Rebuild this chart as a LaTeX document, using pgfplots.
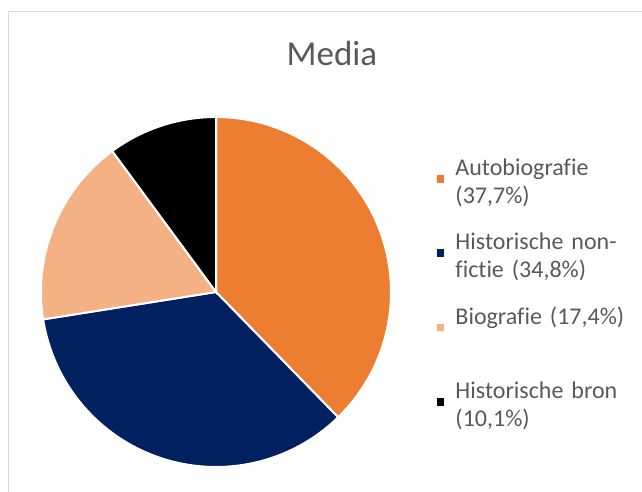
\documentclass[border=0pt]{standalone}
\usepackage{pgfplots}
\pgfplotsset{compat=1.18}
\usepackage{fontspec}
\setmainfont{Carlito}[Ligatures=CommonOff]
\definecolor{cA}{HTML}{ED7D31}
\definecolor{cB}{HTML}{002060}
\definecolor{cC}{HTML}{F4B183}
\definecolor{cD}{HTML}{000000}
\definecolor{txt}{HTML}{595959}
\definecolor{frame}{HTML}{D9D9D9}
% shares in percent
\def\pA{37.7}
\def\pB{34.8}
\def\pC{17.4}
\def\pD{10.1}
\pgfmathsetmacro{\aA}{90}
\pgfmathsetmacro{\aB}{90-3.6*\pA}
\pgfmathsetmacro{\aC}{90-3.6*(\pA+\pB)}
\pgfmathsetmacro{\aD}{90-3.6*(\pA+\pB+\pC)}
\pgfmathsetmacro{\aE}{90-3.6*(\pA+\pB+\pC+\pD)}
\begin{document}
\begin{tikzpicture}
\useasboundingbox (0,0) rectangle (642bp,492bp);
\draw[frame, line width=1.2bp] (8.5bp,-5bp) |- (650bp,480.5bp);
\node[font=\fontsize{35bp}{42bp}\selectfont, text=txt, anchor=base] at (332bp,426bp) {Media};
\begin{axis}[
  at={(41bp,25bp)}, anchor=south west,
  scale only axis, width=350bp, height=350bp,
  xmin=-1, xmax=1, ymin=-1, ymax=1,
  hide axis, clip=false,
  legend style={
    at={(1.1314,0.881)}, anchor=north west,
    draw=none, fill=none, inner sep=0pt, outer sep=0pt,
    row sep=17.3bp, column sep=11bp,
    font=\fontsize{24bp}{28bp}\selectfont, text=txt,
    nodes={inner sep=0pt, text width=185bp, align=left, text height=17bp, text depth=40bp},
  },
  legend cell align=left,
  legend image code/.code={\fill[#1, draw=none] (0bp,4.5bp) rectangle (7.5bp,12bp);},
]
\addplot[fill=cA, draw=white, line width=2bp, domain=\aB:\aA, samples=90, variable=\t]
  ({cos(\t)},{sin(\t)}) -- (axis cs:0,0) -- cycle;
\addlegendentry{Autobiografie\\(37,7\%)}
\addplot[fill=cB, draw=white, line width=2bp, domain=\aC:\aB, samples=90, variable=\t]
  ({cos(\t)},{sin(\t)}) -- (axis cs:0,0) -- cycle;
\addlegendentry{Historische non-\\fictie (34,8\%)}
\addplot[fill=cC, draw=white, line width=2bp, domain=\aD:\aC, samples=60, variable=\t]
  ({cos(\t)},{sin(\t)}) -- (axis cs:0,0) -- cycle;
\addlegendentry{Biografie (17,4\%)}
\addplot[fill=cD, draw=white, line width=2bp, domain=\aE:\aD, samples=40, variable=\t]
  ({cos(\t)},{sin(\t)}) -- (axis cs:0,0) -- cycle;
\addlegendentry{Historische bron\\(10,1\%)}
\end{axis}
\end{tikzpicture}
\end{document}
